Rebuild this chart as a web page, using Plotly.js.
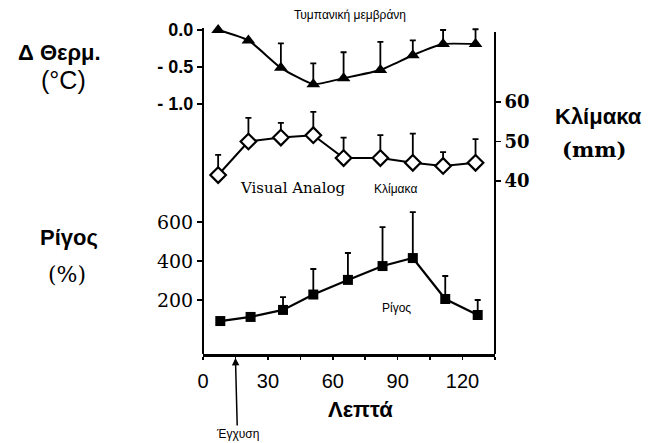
<!DOCTYPE html>
<html>
<head>
<meta charset="utf-8">
<script src="https://cdn.plot.ly/plotly-3.0.1.min.js"></script>
<style>html,body{margin:0;padding:0;background:#fff;}#chart{width:655px;height:443px;}</style>
</head>
<body>
<div id="chart"></div>
<script>
// ---- data ----
const minutes = [7, 21, 36, 51, 65, 82, 97, 111, 126];
const minutesShiver = [8, 22, 37, 51, 67, 83, 97, 112, 127];
const tempChange = [0.0, -0.14, -0.51, -0.73, -0.65, -0.54, -0.34, -0.19, -0.19];
const tempErr = [0, 0, 0.33, 0.28, 0.35, 0.38, 0.20, 0.19, 0.20];
const vasScore = [41.5, 50, 51, 51.6, 45.8, 45.8, 44.6, 43.8, 44.6];
const vasErr = [5.1, 6.0, 3.7, 5.9, 5.2, 5.8, 7.4, 3.5, 6.0];
const shivering = [92, 113, 149, 228, 303, 374, 415, 205, 123];
const shiverErr = [0, 0, 66, 131, 138, 200, 236, 118, 77];
const xTickVals = [0, 30, 60, 90, 120];
const tempTickVals = [0, -0.5, -1.0];
const tempTickText = ['0.0', '- 0.5', '- 1.0'];
const vasTickVals = [40, 50, 60];
const shiverTickVals = [200, 400, 600];

const zeros = minutes.map(() => 0);
const sans = 'Liberation Sans, Arial, sans-serif';
const serif = 'DejaVu Serif, serif';

function errY(arr) {
  return {type: 'data', symmetric: false, array: arr, arrayminus: zeros,
          color: '#000', thickness: 1.8, width: 3};
}

const traces = [
  {x: minutes, y: tempChange, xaxis: 'x', yaxis: 'y', mode: 'lines+markers',
   line: {color: '#000', width: 2, shape: 'spline', smoothing: 0.5},
   marker: {symbol: 'triangle-up', size: 12, color: '#000'},
   error_y: errY(tempErr), cliponaxis: false},
  {x: minutes, y: vasScore, xaxis: 'x', yaxis: 'y2', mode: 'lines+markers',
   line: {color: '#000', width: 2},
   marker: {symbol: 'diamond', size: 12, color: '#fff', line: {color: '#000', width: 2.2}},
   error_y: errY(vasErr), cliponaxis: false},
  {x: minutesShiver, y: shivering, xaxis: 'x', yaxis: 'y3', mode: 'lines+markers',
   line: {color: '#000', width: 2.2},
   marker: {symbol: 'square', size: 10, color: '#000'},
   error_y: errY(shiverErr), cliponaxis: false}
];

const ann = (text, x, y, size, family, opts) => Object.assign({
  text: text, x: x, y: y, xref: 'paper', yref: 'paper', showarrow: false,
  font: {size: size, family: family, color: '#000'}, xanchor: 'center', yanchor: 'middle'
}, opts || {});
const bold = (size, family) => ({font: {size: size, family: family, color: '#000', weight: 'bold'}});

const layout = {
  width: 655, height: 443,
  margin: {l: 203, r: 160, t: 28, b: 89},
  paper_bgcolor: '#fff', plot_bgcolor: '#fff',
  showlegend: false,
  xaxis: {range: [0, 135], domain: [0, 1], anchor: 'y3', tickvals: xTickVals, ticks: 'outside', ticklen: 3,
          tickwidth: 1.5, tickcolor: '#000',
          minor: {dtick: 15, tick0: 0, ticks: 'outside', ticklen: 3, tickwidth: 1.5, tickcolor: '#000'},
          showline: true, linewidth: 3, linecolor: '#000', showgrid: false, zeroline: false,
          ticklabelstandoff: 4,
          tickfont: {size: 20, family: sans, color: '#000'}},
  yaxis: {domain: [0.748, 1], range: [-1.081, 0.027], tickvals: tempTickVals, ticktext: tempTickText,
          ticks: 'outside', ticklen: 5, tickwidth: 1.5, tickcolor: '#000', showgrid: false, zeroline: false,
          showline: false, anchor: 'x', side: 'left',
          tickfont: {size: 18, family: sans, color: '#000', weight: 'bold'}},
  yaxis2: {domain: [0.488, 0.779], range: [36.46, 60.51], tickvals: vasTickVals,
           ticks: 'outside', ticklen: 5, tickwidth: 1.5, tickcolor: '#000', showgrid: false, zeroline: false,
           showline: false, anchor: 'x', side: 'right',
           tickfont: {size: 18, family: serif, color: '#000', weight: 'bold'}},
  yaxis3: {domain: [0, 0.457], range: [-77, 687], tickvals: shiverTickVals,
           ticks: 'outside', ticklen: 5, tickwidth: 1.5, tickcolor: '#000', showgrid: false, zeroline: false,
           showline: false, anchor: 'x', side: 'left',
           tickfont: {size: 19, family: serif, color: '#000'}},
  shapes: [
    {type: 'line', xref: 'paper', yref: 'paper', x0: 0, x1: 0, y0: 0, y1: 1, line: {color: '#000', width: 2}},
    {type: 'line', xref: 'paper', yref: 'paper', x0: 1, x1: 1, y0: 0, y1: 0.988, line: {color: '#000', width: 2}}
  ],
  annotations: [
    ann('Τυμπανική μεμβράνη', 0.503, 1.040, 12, sans),
    ann('Visual Analog', 0.305, 0.509, 15, serif),
    ann('Κλίμακα', 0.658, 0.506, 12, sans),
    ann('Ρίγος', 0.664, 0.141, 12, sans),
    ann('Δ Θερμ.', -0.493, 0.926, 22, sans, bold(22, sans)),
    ann('(°C)', -0.479, 0.840, 25, sans),
    ann('Ρίγος', -0.459, 0.356, 22, sans, bold(22, sans)),
    ann('(%)', -0.466, 0.245, 22, serif),
    ann('Κλίμακα', 1.353, 0.727, 22, sans, bold(22, sans)),
    ann('(mm)', 1.339, 0.626, 21, serif, bold(21, serif)),
    ann('Λεπτά', 0.541, -0.170, 22, sans, bold(22, sans)),
    {text: 'Έγχυση', x: 15, y: -0.012, xref: 'x', yref: 'paper', showarrow: true,
     ax: 2, ay: 76, arrowhead: 2, arrowsize: 1, arrowwidth: 1.5, arrowcolor: '#000',
     font: {size: 12, family: sans, color: '#000'}}
  ]
};

Plotly.newPlot('chart', traces, layout, {displayModeBar: false, staticPlot: true});
</script>
</body>
</html>
